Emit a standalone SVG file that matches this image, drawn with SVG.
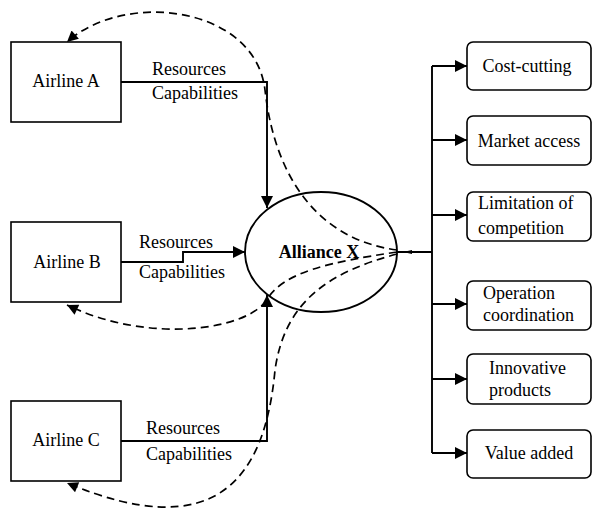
<svg xmlns="http://www.w3.org/2000/svg" width="593" height="512" viewBox="0 0 593 512">
<defs>
<marker id="ah" viewBox="0 0 10 10" refX="10" refY="5" markerWidth="13" markerHeight="11" markerUnits="userSpaceOnUse" orient="auto"><path d="M0,0 L10,5 L0,10 z" fill="#000"/></marker>
<marker id="ahs" viewBox="0 0 10 10" refX="10" refY="5" markerWidth="14" markerHeight="12" markerUnits="userSpaceOnUse" orient="auto"><path d="M0,0 L10,5 L0,10 z" fill="#000"/></marker>
<style>
text{font-family:"Liberation Serif","Times New Roman",serif;font-size:18px;fill:#000}
.box{fill:#fff;stroke:#000;stroke-width:1.6}
.rbox{fill:#fff;stroke:#000;stroke-width:1.6}
.ln{fill:none;stroke:#000;stroke-width:1.9}
.dash{fill:none;stroke:#000;stroke-width:1.7;stroke-dasharray:8,5}
.c{text-anchor:middle}
</style>
</defs>
<g id="connectors">
<path class="ln" d="M121,82 H267 V208" marker-end="url(#ahs)"/>
<path class="ln" d="M121,262 H183 V252 H245" marker-end="url(#ahs)"/>
<path class="ln" d="M121,441 H267 V295" marker-end="url(#ahs)"/>
<path class="ln" d="M397,252 H432"/>
<path d="M403,252 L412,250 L412,254 z" fill="#000"/>
<path class="ln" d="M432,66 V453"/>
<path class="ln" d="M432,66 H467" marker-end="url(#ahs)"/>
<path class="ln" d="M432,140 H467" marker-end="url(#ahs)"/>
<path class="ln" d="M432,215 H467" marker-end="url(#ahs)"/>
<path class="ln" d="M432,304 H467" marker-end="url(#ahs)"/>
<path class="ln" d="M432,379 H467" marker-end="url(#ahs)"/>
<path class="ln" d="M432,453 H467" marker-end="url(#ahs)"/>
<path class="dash" d="M397,250 C320,240 275,180 265,90 C255,6 125,-10 67,42" marker-end="url(#ah)"/>
<path class="dash" d="M397,252 C330,262 285,272 268,298 C250,330 150,345 67,305" marker-end="url(#ah)"/>
<path class="dash" d="M397,254 C330,272 285,300 275,370 C265,480 215,545 67,483" marker-end="url(#ah)"/>
<text x="152" y="75">Resources</text>
<text x="152" y="99">Capabilities</text>
<text x="139" y="248">Resources</text>
<text x="139" y="278">Capabilities</text>
<text x="146" y="434">Resources</text>
<text x="146" y="460">Capabilities</text>
</g>
<g id="airlineA"><rect class="box" x="11" y="42" width="110" height="80"/><text class="c" x="66" y="87">Airline A</text></g>
<g id="airlineB"><rect class="box" x="11" y="222" width="110" height="80"/><text class="c" x="67" y="268">Airline B</text></g>
<g id="airlineC"><rect class="box" x="11" y="401" width="110" height="80"/><text class="c" x="66" y="446">Airline C</text></g>
<g id="alliance"><ellipse cx="321" cy="252" rx="76" ry="60" fill="none" stroke="#000" stroke-width="1.9"/><text class="c" x="319" y="258" font-weight="bold">Alliance X</text></g>
<g id="costcutting"><rect class="rbox" x="467" y="42" width="124" height="48" rx="6"/><text class="c" x="527" y="72">Cost-cutting</text></g>
<g id="marketaccess"><rect class="rbox" x="467" y="116" width="124" height="49" rx="6"/><text class="c" x="529" y="147">Market access</text></g>
<g id="limitation"><rect class="rbox" x="467" y="192" width="124" height="49" rx="6"/><text x="478" y="209">Limitation of</text><text x="478" y="234">competition</text></g>
<g id="operation"><rect class="rbox" x="467" y="281" width="124" height="49" rx="6"/><text x="483" y="299">Operation</text><text x="483" y="321">coordination</text></g>
<g id="innovative"><rect class="rbox" x="467" y="354" width="124" height="50" rx="6"/><text x="489" y="374">Innovative</text><text x="489" y="396">products</text></g>
<g id="valueadded"><rect class="rbox" x="467" y="430" width="124" height="48" rx="6"/><text class="c" x="529" y="459">Value added</text></g>
</svg>
